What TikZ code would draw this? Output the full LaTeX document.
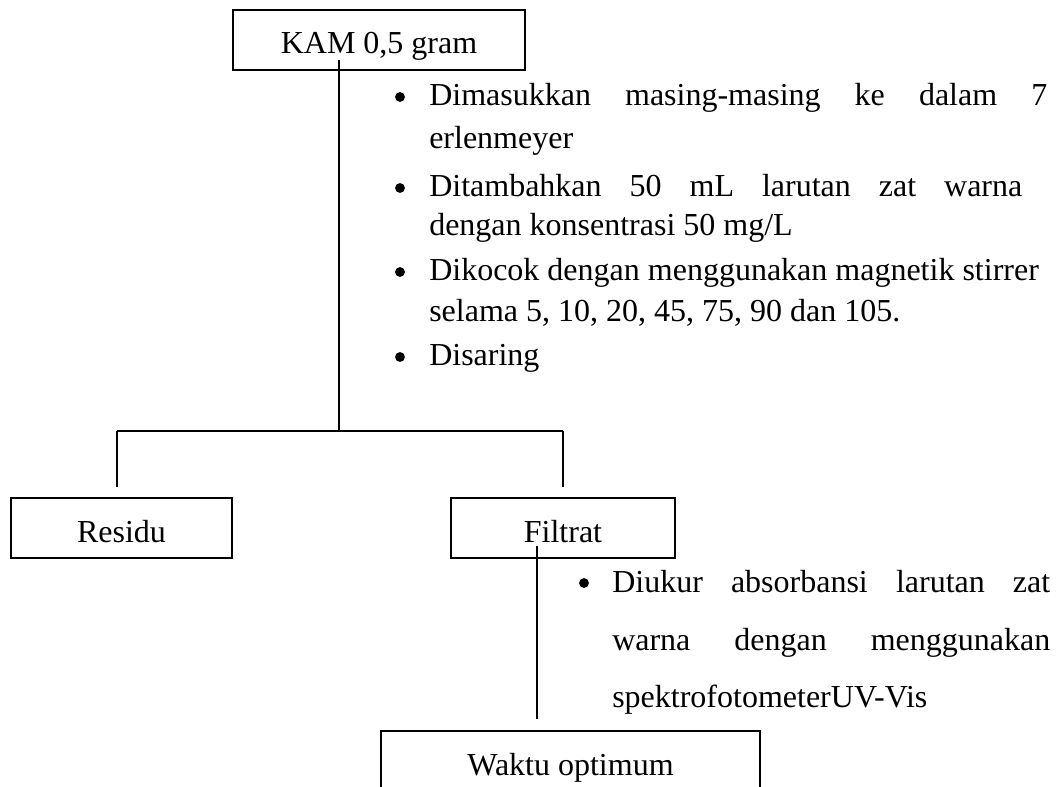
\documentclass[tikz,border=0pt]{standalone}
\usepackage{fontspec}
\setmainfont{Liberation Serif}
\begin{document}
\begin{tikzpicture}[x=0.75pt,y=-0.75pt,
  font=\fontsize{24pt}{28pt}\selectfont,
  box/.style={draw, line width=1.35pt, minimum height=45pt, inner sep=0pt, text height=21pt, text depth=0pt},
  conn/.style={line width=1.1pt},
  dot/.style={circle, fill, inner sep=0pt, minimum size=7.4pt},
  txt/.style={anchor=base west, inner sep=0pt}]
\useasboundingbox (0,0) rectangle (1059,787);

% boxes
\node[box, minimum width=219pt] (kam) at (379,40) {KAM 0,5 gram};
\node[box, minimum width=165.75pt] (residu) at (121.5,528) {Residu};
\node[box, minimum width=168pt] (filtrat) at (563,528) {Filtrat};
\node[box, minimum width=284.25pt] (waktu) at (570.5,761) {Waktu optimum};

% connector points
\coordinate (kamin) at (339,60);
\coordinate (junc) at (339,431);
\coordinate (hl) at (117,431);
\coordinate (hr) at (563,431);
\coordinate (rtop) at (117,487);
\coordinate (ftop) at (563,487);
\coordinate (fin) at (537,546);
\coordinate (fout) at (537,719);

\draw[conn] (kamin) -- (junc);
\draw[conn] (hl) -- (hr);
\draw[conn] (hl) -- (rtop);
\draw[conn] (hr) -- (ftop);
\draw[conn] (fin) -- (fout);

% first list
\node[dot] (d1) at (400,97) {};
\node[dot] (d2) at (400,188) {};
\node[dot] (d3) at (400,272) {};
\node[dot] (d4) at (400,357) {};
\node[txt] (l1) at (429,106) {\makebox[463.5pt][s]{Dimasukkan masing-masing ke dalam 7}};
\node[txt] (l2) at (429,149) {erlenmeyer};
\node[txt] (l3) at (429,197) {\makebox[444.75pt][s]{Ditambahkan 50 mL larutan zat warna}};
\node[txt] (l4) at (429,236) {dengan konsentrasi 50 mg/L};
\node[txt] (l5) at (429,281) {Dikocok dengan menggunakan magnetik stirrer};
\node[txt] (l6) at (429,322) {selama 5, 10, 20, 45, 75, 90 dan 105.};
\node[txt] (l7) at (429,366) {Disaring};

% second list
\node[dot] (d5) at (584,583) {};
\node[txt] (m1) at (612,592) {\makebox[328.5pt][s]{Diukur absorbansi larutan zat}};
\node[txt] (m2) at (612,650) {\makebox[328.5pt][s]{warna dengan menggunakan}};
\node[txt] (m3) at (612,707) {spektrofotometerUV-Vis};
\end{tikzpicture}
\end{document}
